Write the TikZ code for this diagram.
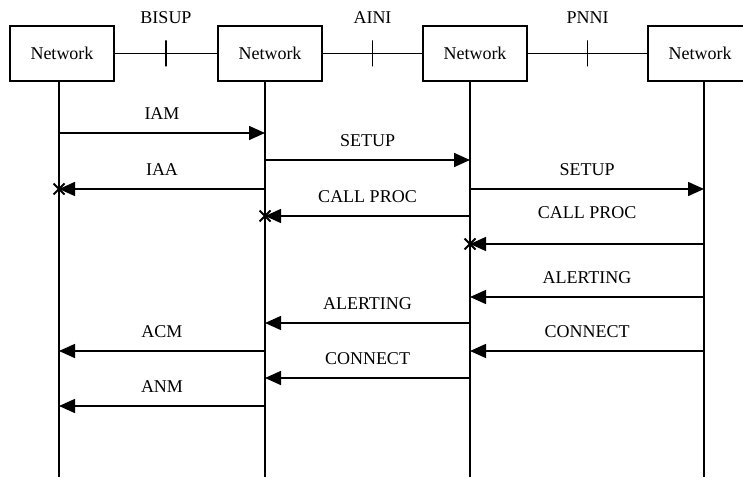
\documentclass[tikz,border=0pt]{standalone}
\usepackage{fontspec}
\setmainfont{Liberation Serif}
\usetikzlibrary{positioning, arrows.meta, shapes.misc}

\begin{document}
\begin{tikzpicture}[x=1pt, y=1pt,
  font=\fontsize{18}{21}\selectfont,
  line width=1.5pt,
  netbox/.style={draw, minimum width=104pt, minimum height=55pt, inner sep=0pt},
  tick/.style={draw, minimum width=0pt, minimum height=26pt, inner sep=0pt},
  msg/.style={-{Triangle[length=16pt, width=14pt]}},
  msgname/.style={above=13pt, inner sep=0pt},
  xmark/.style={draw, cross out, minimum size=9pt, inner sep=0pt, line width=2pt},
]
  \useasboundingbox (0,0) rectangle (743,477);

  \node[netbox] (net1) at (62,423.5) {Network};
  \node[netbox] (net2) at (270,423.5) {Network};
  \node[netbox] (net3) at (475,423.5) {Network};
  \node[netbox] (net4) at (700,423.5) {Network};

  \draw (net1) -- node[tick, label={[inner sep=0pt, label distance=15pt]above:BISUP}] {} (net2);
  \draw (net2) -- node[tick, label={[inner sep=0pt, label distance=15pt]above:AINI}] {} (net3);
  \draw (net3) -- node[tick, label={[inner sep=0pt, label distance=15pt]above:PNNI}] {} (net4);

  \coordinate (b1) at (59,0);
  \coordinate (b2) at (265,0);
  \coordinate (b3) at (470,0);
  \coordinate (b4) at (704,0);
  \draw (net1.south -| b1) -- (b1);
  \draw (net2.south -| b2) -- (b2);
  \draw (net3.south -| b3) -- (b3);
  \draw (net4.south -| b4) -- (b4);

  \draw[msg] (b1 |- 0,344) -- node[msgname] {IAM} (b2 |- 0,344);
  \draw[msg] (b2 |- 0,317) -- node[msgname] {SETUP} (b3 |- 0,317);
  \draw[msg] (b2 |- 0,288) -- node[msgname] {IAA} (b1 |- 0,288) node[xmark] {};
  \draw[msg] (b3 |- 0,288) -- node[msgname] {SETUP} (b4 |- 0,288);
  \draw[msg] (b3 |- 0,261) -- node[msgname] {CALL PROC} (b2 |- 0,261) node[xmark] {};
  \draw[msg] (b4 |- 0,233) -- node[msgname, above=25pt] {CALL PROC} (b3 |- 0,233) node[xmark] {};
  \draw[msg] (b4 |- 0,180) -- node[msgname] {ALERTING} (b3 |- 0,180);
  \draw[msg] (b3 |- 0,154) -- node[msgname] {ALERTING} (b2 |- 0,154);
  \draw[msg] (b2 |- 0,126) -- node[msgname] {ACM} (b1 |- 0,126);
  \draw[msg] (b4 |- 0,126) -- node[msgname] {CONNECT} (b3 |- 0,126);
  \draw[msg] (b3 |- 0,99) -- node[msgname] {CONNECT} (b2 |- 0,99);
  \draw[msg] (b2 |- 0,71) -- node[msgname] {ANM} (b1 |- 0,71);
\end{tikzpicture}
\end{document}
